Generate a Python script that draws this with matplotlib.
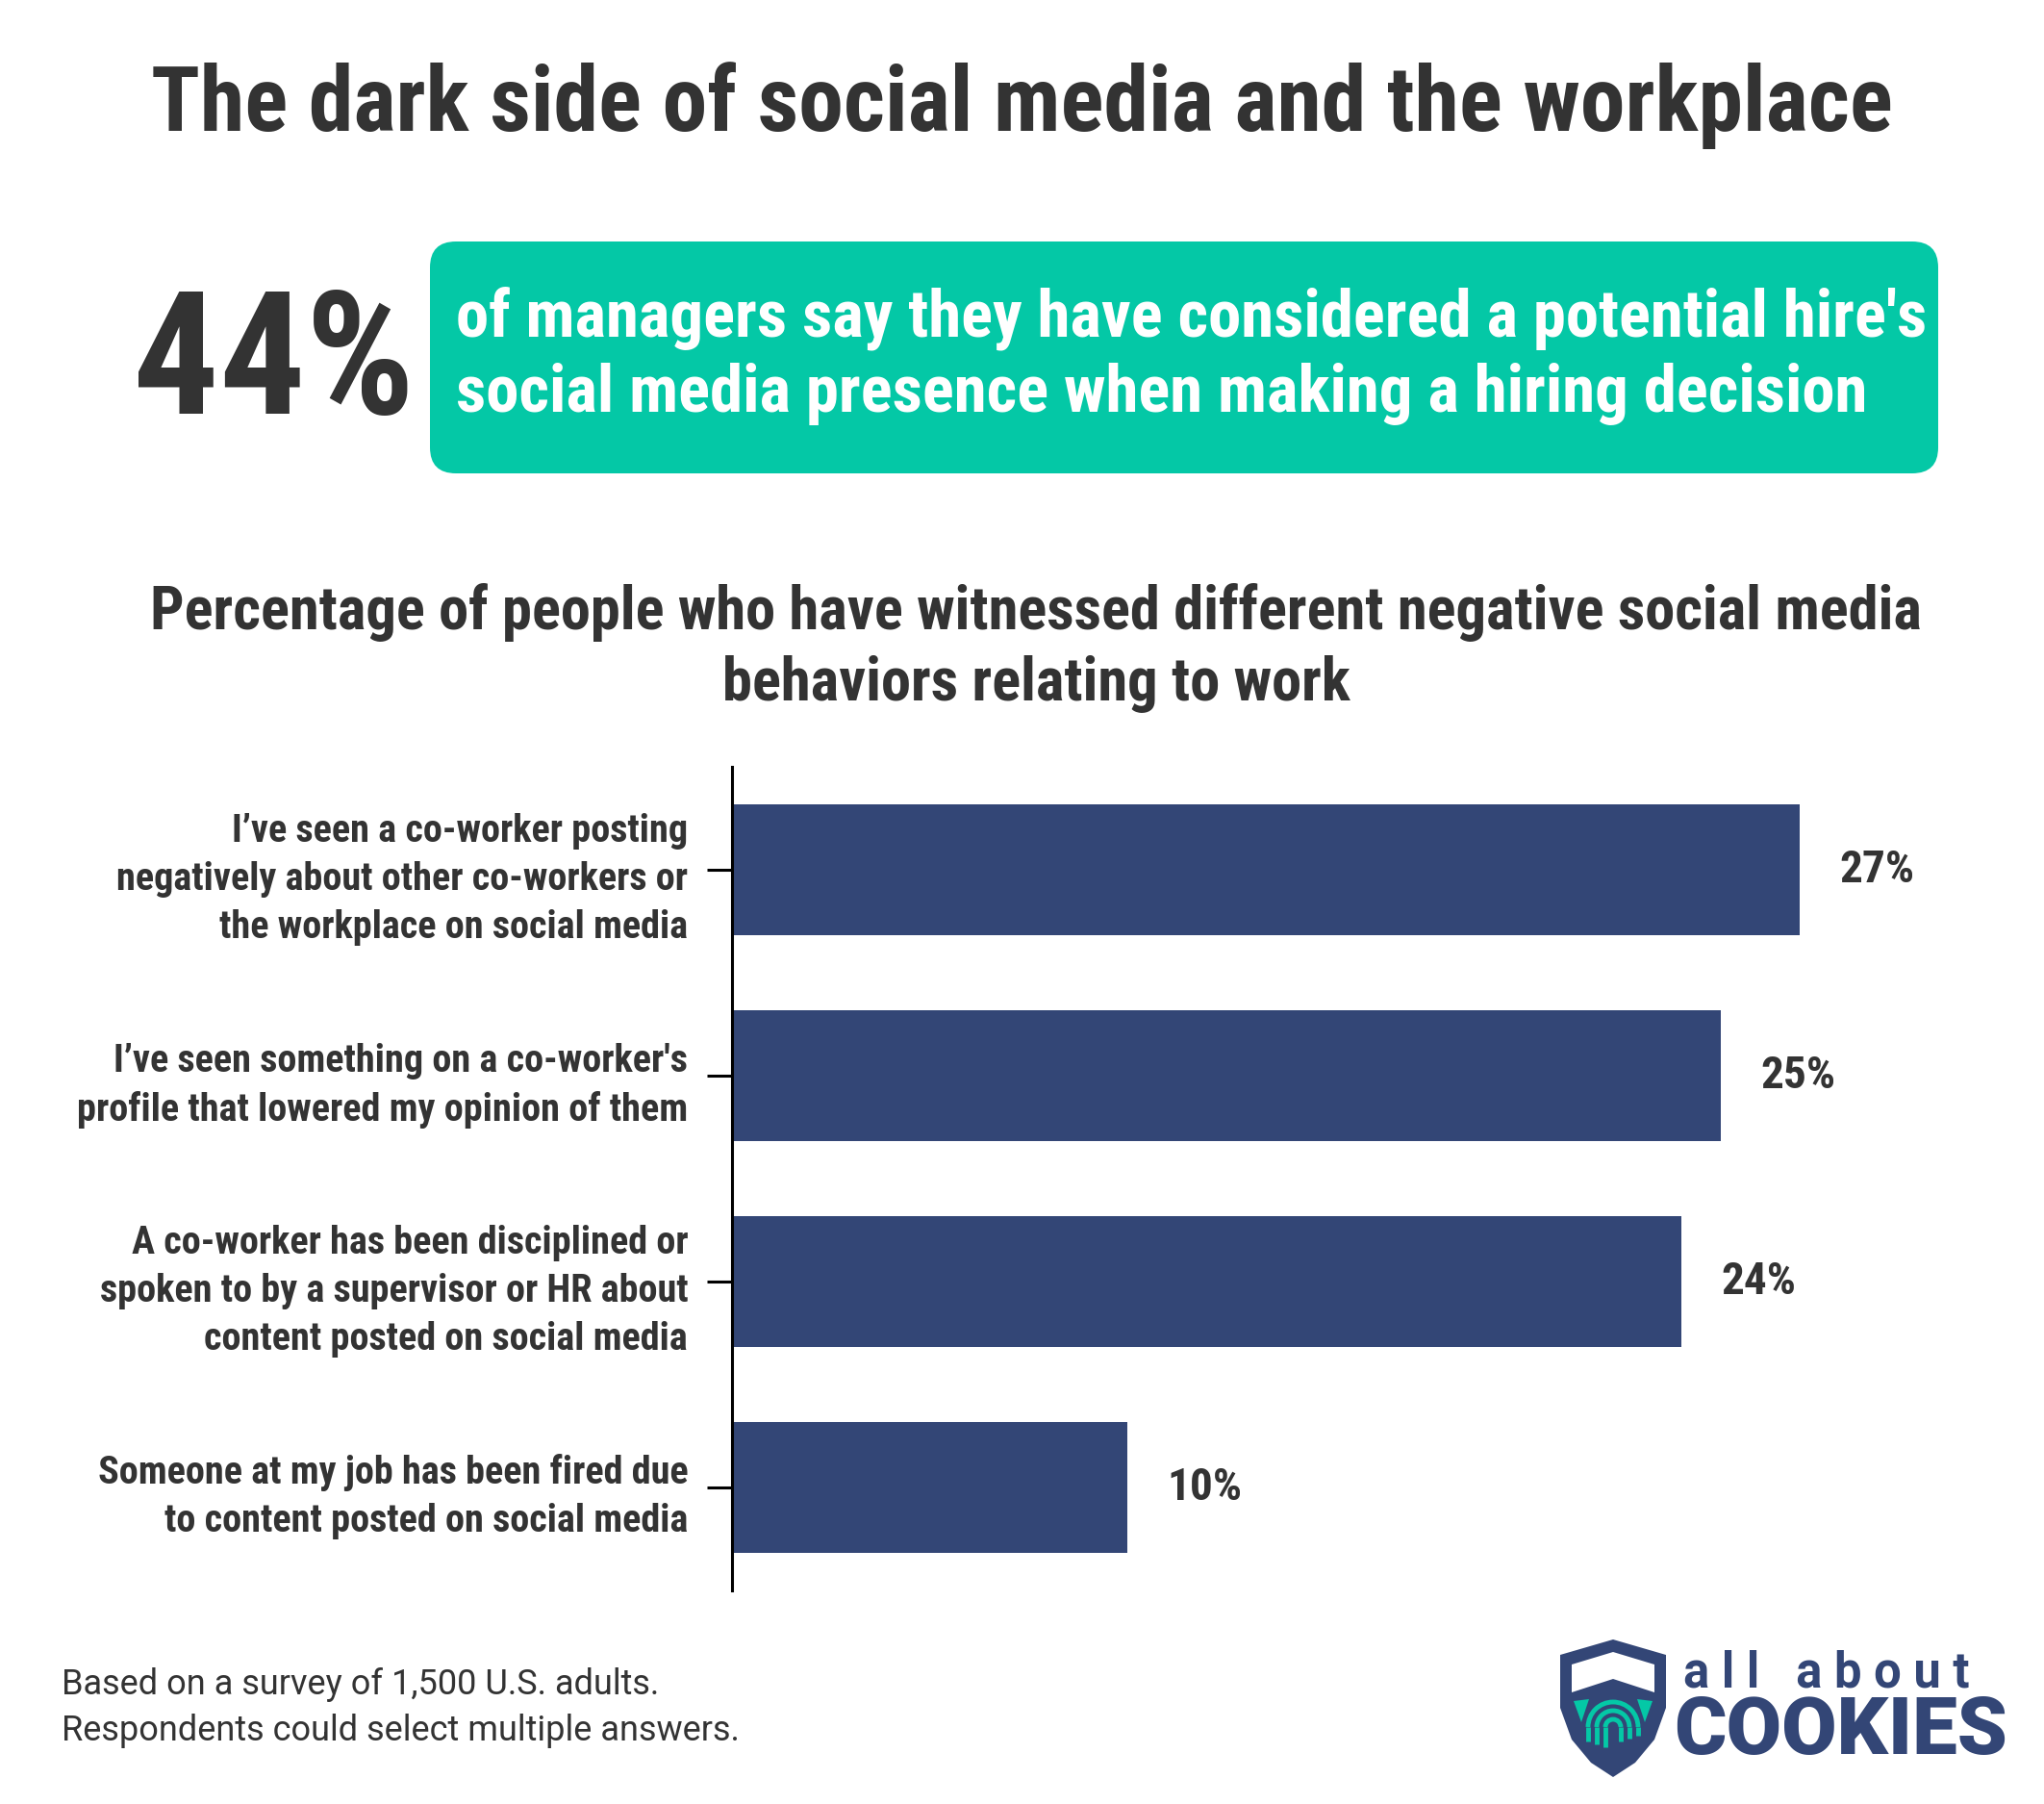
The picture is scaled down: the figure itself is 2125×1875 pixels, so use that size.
import matplotlib
matplotlib.use("Agg")
import matplotlib.pyplot as plt
from matplotlib import font_manager
from matplotlib.patches import FancyBboxPatch, Polygon, Arc

W, H = 2125, 1875

categories = [
    "I\u2019ve seen a co-worker posting\nnegatively about other co-workers or\nthe workplace on social media",
    "I\u2019ve seen something on a co-worker's\nprofile that lowered my opinion of them",
    "A co-worker has been disciplined or\nspoken to by a supervisor or HR about\ncontent posted on social media",
    "Someone at my job has been fired due\nto content posted on social media",
]
values = [27, 25, 24, 10]
value_labels = ["27%", "25%", "24%", "10%"]

headline_stat = "44%"
headline_text = ["of managers say they have considered a potential hire's",
                 "social media presence when making a hiring decision"]

DARK = "#333333"
TEAL = "#04C8A6"
NAVY = "#334676"

names = {f.name for f in font_manager.fontManager.ttflist}
COND = next((n for n in ["Roboto Condensed", "Liberation Sans Narrow", "Roboto"] if n in names), "DejaVu Sans")
REG = "Roboto" if "Roboto" in names else "DejaVu Sans"

fig = plt.figure(figsize=(W / 100, H / 100), dpi=100)

# full-figure layer in pixel units (y down) for titles, box and logo
bg = fig.add_axes([0, 0, 1, 1], zorder=0)
bg.set_xlim(0, W)
bg.set_ylim(H, 0)
bg.axis("off")

bg.text(1062, 136, "The dark side of social media and the workplace", ha="center",
        va="baseline", fontsize=67.5, fontweight="bold", color=DARK, family=COND)

bg.add_patch(FancyBboxPatch((447, 251), 1568, 241, boxstyle="round,pad=0,rounding_size=27",
                            fc=TEAL, ec="none"))
bg.text(138, 430, headline_stat, ha="left", va="baseline", fontsize=128,
        fontweight="bold", color=DARK, family=COND)
bg.text(474, 350, headline_text[0], ha="left", va="baseline", fontsize=49.5,
        fontweight="bold", color="white", family=COND)
bg.text(474, 428, headline_text[1], ha="left", va="baseline", fontsize=49.5,
        fontweight="bold", color="white", family=COND)

bg.text(1077, 654, "Percentage of people who have witnessed different negative social media",
        ha="center", va="baseline", fontsize=45, fontweight="bold", color=DARK, family=COND)
bg.text(1077, 728, "behaviors relating to work", ha="center", va="baseline", fontsize=45,
        fontweight="bold", color=DARK, family=COND)

bg.text(64, 1761, "Based on a survey of 1,500 U.S. adults.", ha="left", va="baseline",
        fontsize=26, color=DARK, family=REG)
bg.text(64, 1809, "Respondents could select multiple answers.", ha="left", va="baseline",
        fontsize=26, color=DARK, family=REG)

# logo: shield + wordmark
shield = [(1622, 1720), (1677, 1704), (1732, 1720), (1732, 1775), (1720, 1808),
          (1700, 1832), (1677, 1847), (1654, 1832), (1634, 1808), (1622, 1775)]
bg.add_patch(Polygon(shield, closed=True, fc=NAVY, ec="none"))
bg.add_patch(Polygon([(1634, 1730), (1677, 1717), (1720, 1730), (1720, 1759),
                      (1677, 1745), (1634, 1759)], closed=True, fc="white", ec="none"))
bg.add_patch(Polygon([(1636, 1768), (1652, 1766), (1644, 1790)], closed=True, fc=TEAL, ec="none"))
bg.add_patch(Polygon([(1718, 1768), (1702, 1766), (1710, 1790)], closed=True, fc=TEAL, ec="none"))
for r in (8, 17, 26):
    bg.add_patch(Arc((1677, 1795), 2 * r, 2 * r, theta1=180, theta2=360, color=TEAL, lw=3.5))
    bg.plot([1677 - r, 1677 - r], [1795, 1818 - r * 0.3], color=TEAL, lw=3.5, solid_capstyle="butt")
    bg.plot([1677 + r, 1677 + r], [1795, 1812 - r * 0.3], color=TEAL, lw=3.5, solid_capstyle="butt")
bg.text(1750, 1753, "a l l   a b o u t", ha="left", va="baseline", fontsize=36.5,
        fontweight="bold", color=NAVY, family=REG)
bg.text(1740, 1823, "COOKIES", ha="left", va="baseline", fontsize=60,
        fontweight="black", color=NAVY, family=REG)

# bar chart
ax = fig.add_axes([761 / W, 1 - 1653 / H, (2050 - 761) / W, 856 / H], zorder=1)
ax.patch.set_alpha(0)
y = list(range(len(values)))
ax.barh(y, values, height=0.64, color=NAVY)
for yi, v, lab in zip(y, values, value_labels):
    ax.text(v + 1.0, yi, lab, ha="left", va="center", fontsize=34, fontweight="bold",
            color=DARK, family=COND)
ax.set_xlim(0, 31.35)
ax.set_ylim(3.5, -0.5)
ax.set_yticks(y)
ax.set_yticklabels(categories, fontsize=29, fontweight="bold", color=DARK, family=COND,
                   linespacing=1.4, ha="right")
ax.tick_params(axis="y", length=19, width=2.2, pad=14, color="black")
ax.set_xticks([])
for s in ("top", "right", "bottom"):
    ax.spines[s].set_visible(False)
ax.spines["left"].set_linewidth(2.2)
ax.spines["left"].set_color("black")

fig.savefig("out.png", dpi=100, facecolor="white")
